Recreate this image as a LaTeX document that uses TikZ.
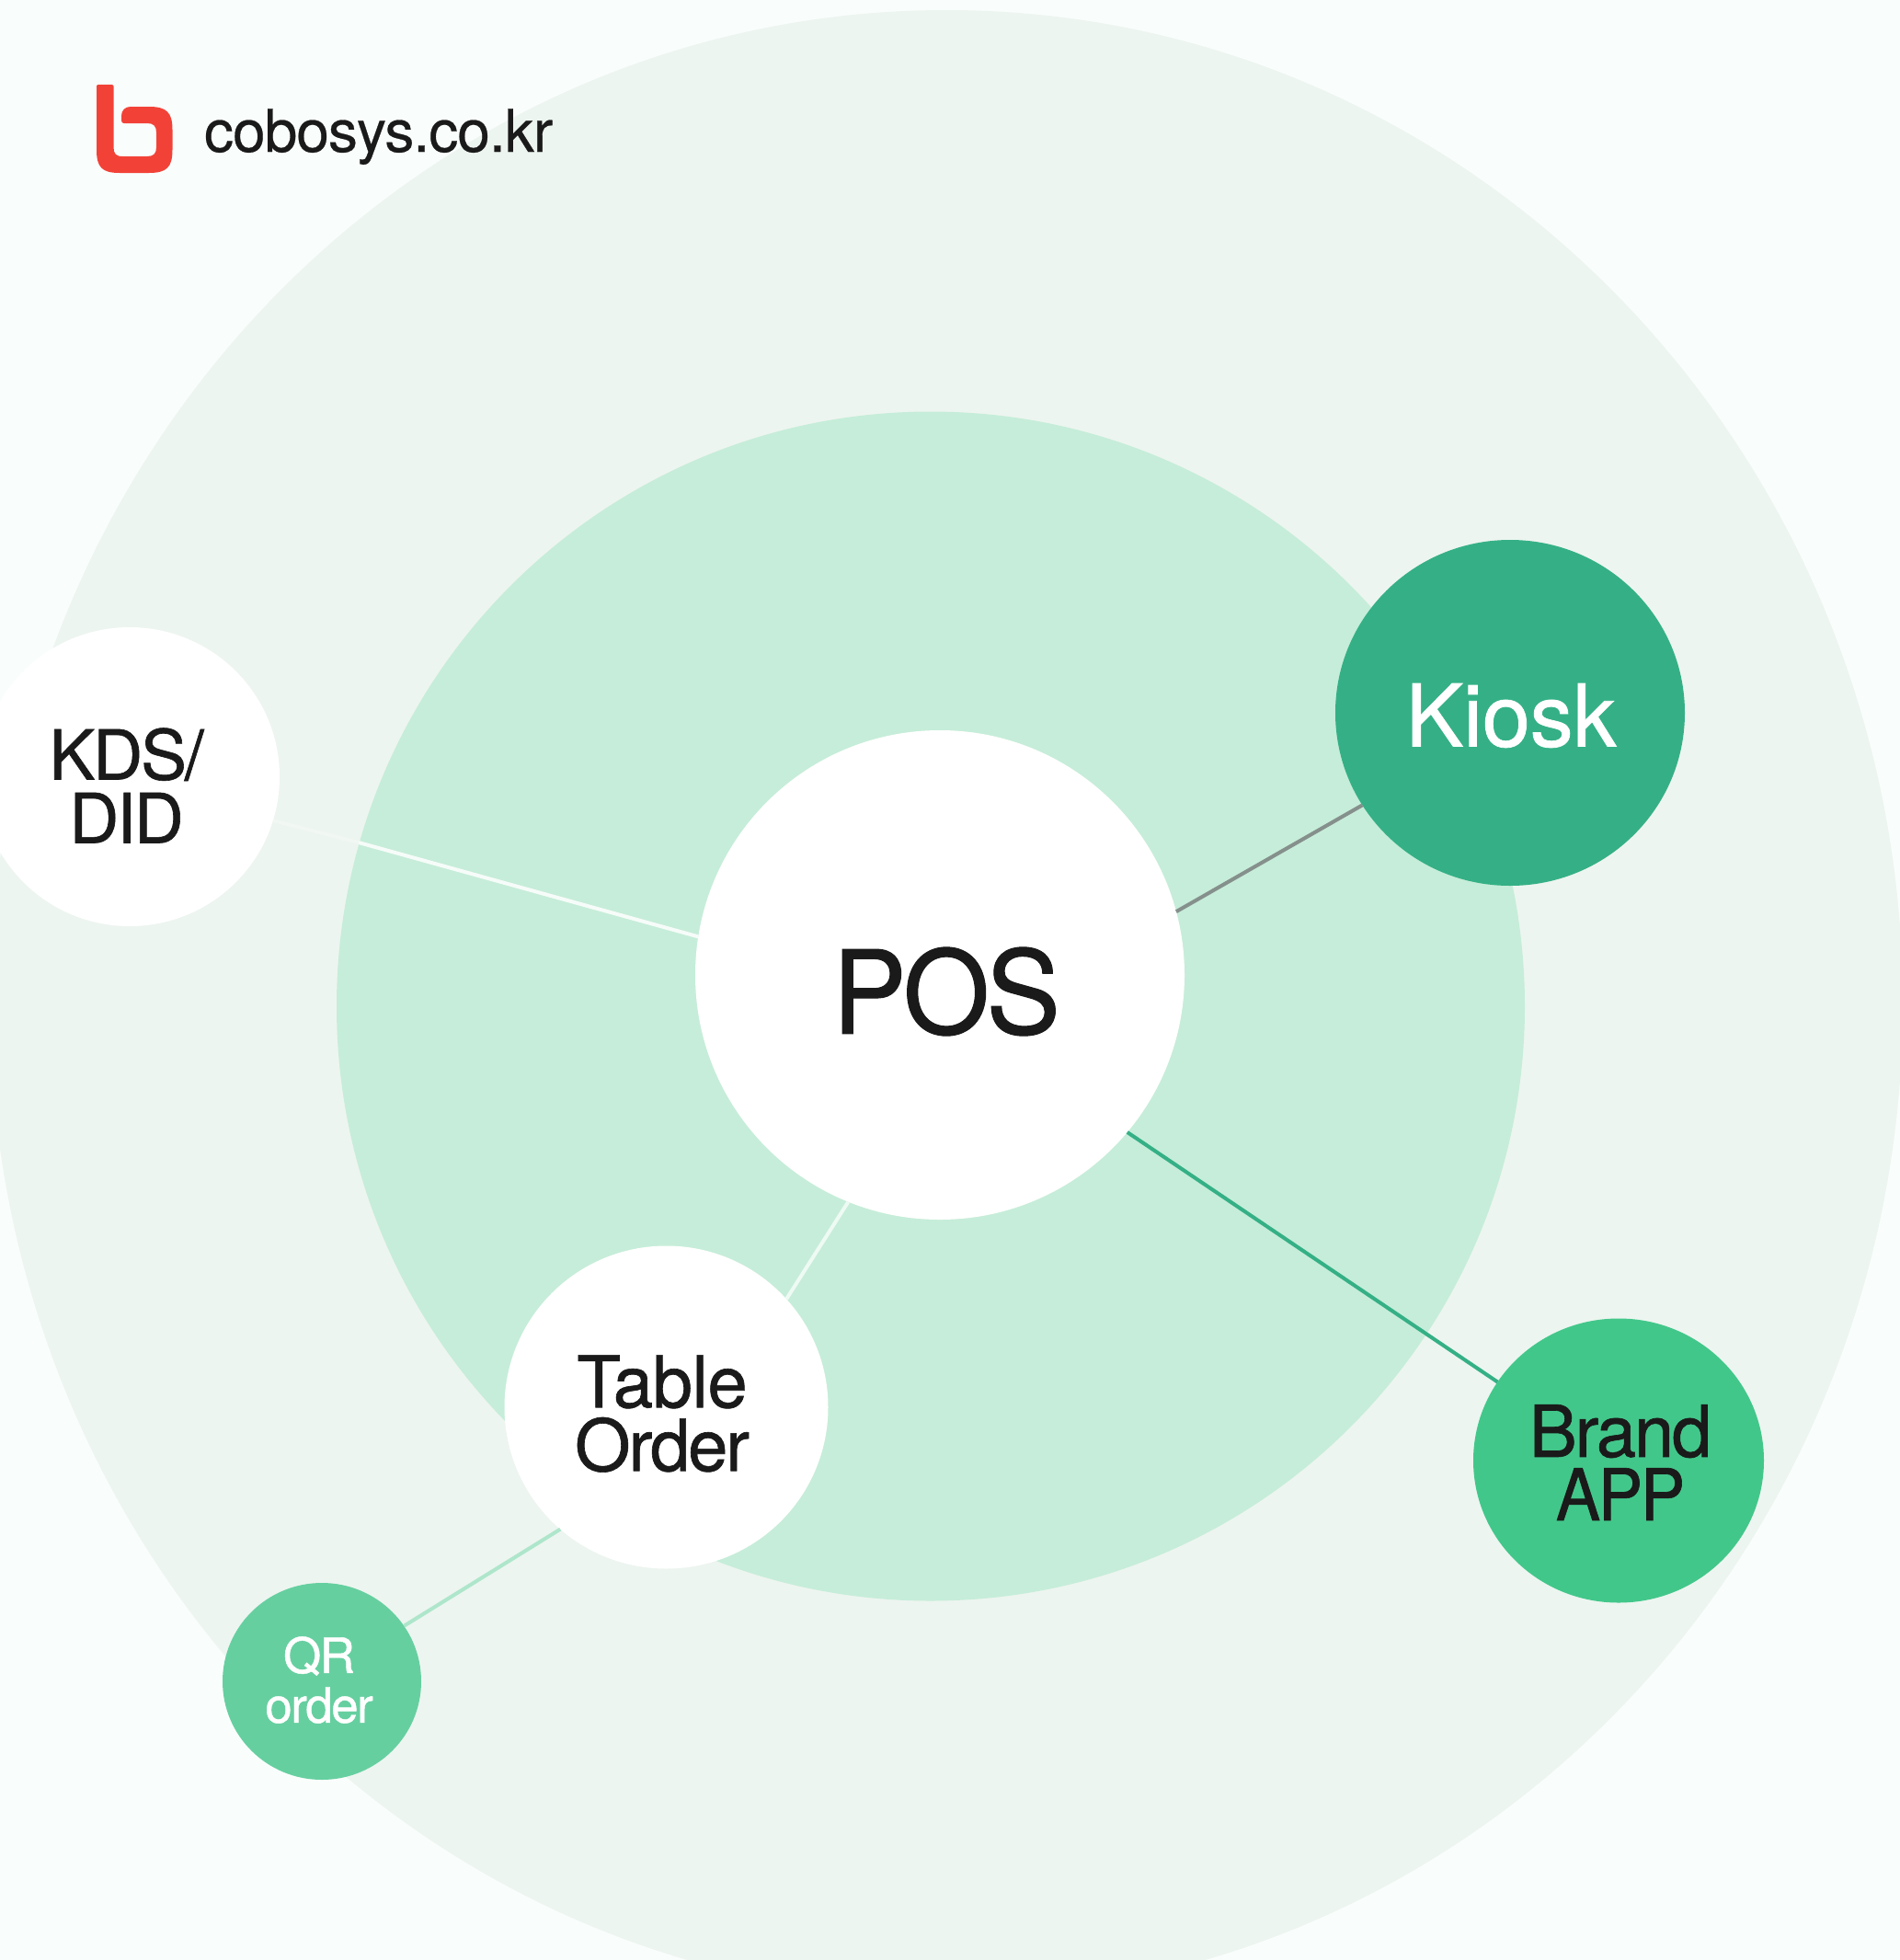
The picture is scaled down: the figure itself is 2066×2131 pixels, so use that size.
\documentclass[tikz,border=0pt]{standalone}
\usepackage{fontspec}
\usetikzlibrary{shapes.geometric}
\setmainfont{TeX Gyre Heros}[LetterSpace=-3,FakeBold=0.8]
\newfontfamily\posfont{TeX Gyre Heros}[LetterSpace=-3,FakeStretch=0.96,FakeBold=0.8]
\newfontfamily\appfont{TeX Gyre Heros}[LetterSpace=-3,FakeStretch=0.93,FakeBold=0.8]
\newfontfamily\kioskfont{TeX Gyre Heros}[LetterSpace=-0.3,FakeBold=0.8]
\newfontfamily\tablefont{TeX Gyre Heros}[LetterSpace=-0.6,FakeBold=0.8]
\newfontfamily\logofont{TeX Gyre Heros}[LetterSpace=-1.5,FakeBold=0.4]
\definecolor{bgc}{HTML}{F9FEFC}
\definecolor{outerc}{HTML}{EDF5F0}
\definecolor{midc}{HTML}{C6EDD9}
\definecolor{kioskc}{HTML}{35B086}
\definecolor{brandc}{HTML}{42C78A}
\definecolor{qrc}{HTML}{66CFA0}
\definecolor{ink}{HTML}{1A1A1A}
\definecolor{logoc}{HTML}{F24238}
\definecolor{linkgray}{HTML}{85908C}
\tikzset{
  x=0.5pt,y=-0.5pt,
  disc/.style 2 args={ellipse,inner sep=0pt,outer sep=0pt,minimum width=#1 pt,minimum height=#2 pt},
  lab/.style 2 args={inner sep=0pt,outer sep=0pt,align=center,text=ink,font=\fontsize{#1}{#2}\selectfont},
  link/.style={line width=2pt}
}
\begin{document}
\begin{tikzpicture}
\useasboundingbox (0,0) rectangle (2066,2131);
\clip (0,0) rectangle (2066,2131);
\fill[bgc] (0,0) rectangle (2066,2131);
\node[disc={1040}{1080},fill=outerc] (outer) at (1029,1091) {};
\node[disc={646}{646.5},fill=midc] (mid) at (1012,1094) {};
\node[disc={266}{266},fill=white] (pos) at (1022,1060) {};
\node[disc={190}{188},fill=kioskc] (kiosk) at (1642,775) {};
\node[disc={158}{154.5},fill=brandc] (brand) at (1760,1588) {};
\node[disc={176}{175.5},fill=white] (table) at (724.5,1530) {};
\node[disc={108}{107},fill=qrc] (qr) at (350,1828) {};
\node[disc={163}{162.5},fill=white] (kds) at (141,844.5) {};
\coordinate (edge) at (390,916);
\draw[link,color=linkgray] (pos.15.4) -- (kiosk.212);
\draw[link,color=kioskc] (pos.-40.3) -- (brand.147.1);
\draw[link,color=white!70!midc] (pos.248.4) -- (table.42);
\draw[link,color=midc!75!qrc] (table.229.4) -- (qr.34.9);
\draw[link,color=white!85!midc] (pos.171.2) -- (edge);
\draw[link,color=white!20!outerc] (edge) -- (kds.343);
% labels
\node[lab={63}{63}] (poslab) at (1029,1078) {\posfont POS};
\node[lab={47}{47},text=white] (kiosklab) at (1643,778) {\kioskfont Kiosk};
\node[lab={39}{34.5}] (brandlab) at (1762,1590) {Brand\\{\appfont APP}};
\node[lab={39}{34.5}] (tablelab) at (720,1537) {\tablefont Table\\Order};
\node[lab={26.5}{27},text=white] (qrlab) at (347,1826.5) {QR\\order};
\node[lab={37.5}{34.5}] (kdslab) at (137.5,854) {KDS/\\DID};
% logo
\fill[logoc] (107,92) -- (121.5,92) .. controls (123,92) and (123.5,93) .. (123.5,94) -- (123.5,160)
  .. controls (123.5,167) and (126,170) .. (133,170) -- (160,170)
  .. controls (167,170) and (170,167) .. (170,160) -- (170,144)
  .. controls (170,137) and (167,134) .. (160,134) -- (135,134)
  .. controls (133,134) and (132,133) .. (132,131) -- (132,126)
  .. controls (132,120) and (136,116) .. (142,116) -- (162,116)
  .. controls (181,116) and (187.5,122) .. (187.5,141) -- (187.5,163)
  .. controls (187.5,182) and (181,188) .. (162,188) -- (130,188)
  .. controls (111,188) and (105,182) .. (105,163) -- (105,94)
  .. controls (105,93) and (105.5,92) .. (107,92) -- cycle;
\node[lab={32}{32},anchor=base west] (logotext) at (222,165) {\logofont cobosys.co.kr};
\end{tikzpicture}
\end{document}
